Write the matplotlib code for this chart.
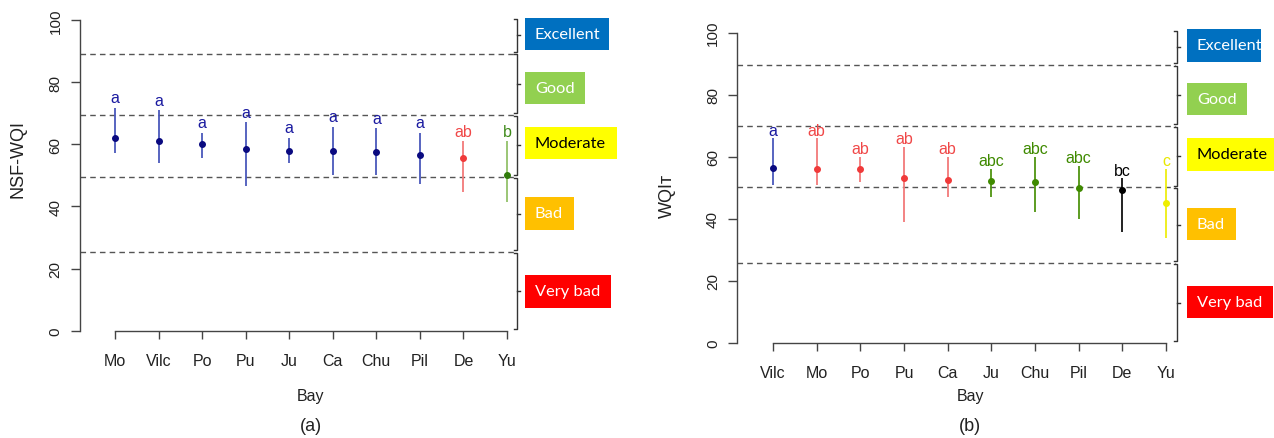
import matplotlib
matplotlib.use("Agg")
import matplotlib.pyplot as plt
from matplotlib.patches import Rectangle
from matplotlib.lines import Line2D

# ---------------- data ----------------
bays_a = ['Mo', 'Vilc', 'Po', 'Pu', 'Ju', 'Ca', 'Chu', 'Pil', 'De', 'Yu']
mean_a = [61.9, 61.0, 60.0, 58.5, 57.9, 57.9, 57.6, 56.6, 55.5, 50.2]
upper_a = [71.7, 71.0, 63.7, 67.1, 62.1, 65.6, 65.2, 63.7, 61.0, 61.0]
lower_a = [57.3, 54.0, 55.5, 46.6, 54.0, 50.2, 50.2, 47.2, 44.7, 41.5]
groups_a = ['a', 'a', 'a', 'a', 'a', 'a', 'a', 'a', 'ab', 'b']
thresholds_a = [25.3, 49.6, 69.4, 89.2]

bays_b = ['Vilc', 'Mo', 'Po', 'Pu', 'Ca', 'Ju', 'Chu', 'Pil', 'De', 'Yu']
mean_b = [56.5, 56.1, 56.1, 53.1, 52.5, 52.2, 51.8, 50.0, 49.2, 45.1]
upper_b = [65.9, 65.9, 60.0, 63.1, 60.0, 56.0, 60.0, 57.0, 53.0, 56.0]
lower_b = [51.0, 51.0, 51.8, 38.9, 46.9, 46.9, 42.1, 39.8, 35.8, 33.9]
groups_b = ['a', 'ab', 'ab', 'ab', 'ab', 'abc', 'abc', 'abc', 'bc', 'c']
thresholds_b = [25.6, 50.1, 69.9, 89.6]

classes = ['Very bad', 'Bad', 'Moderate', 'Good', 'Excellent']
yticks = [0, 20, 40, 60, 80, 100]

# ---------------- styles ----------------
W, H = 1274, 439
point_col = {'a': '#0a0a80', 'ab': '#f03a3a', 'b': '#2f7a0a', 'abc': '#3f8a00',
             'bc': '#000000', 'c': '#eeee00'}
bar_col = {'a': '#4a58bb', 'ab': '#f27a7a', 'b': '#93c26a', 'abc': '#4f9410',
           'bc': '#111111', 'c': '#eeee10'}
text_col = {'a': '#1a1aa0', 'ab': '#f04848', 'b': '#3f8a1a', 'abc': '#3f8a00',
            'bc': '#000000', 'c': '#e8e800'}
box_face = {'Excellent': '#0070C0', 'Good': '#92D050', 'Moderate': '#FFFF00',
            'Bad': '#FFC000', 'Very bad': '#FF0000'}
box_text = {'Excellent': 'white', 'Good': 'white', 'Moderate': 'black',
            'Bad': 'white', 'Very bad': 'white'}

plt.rcParams['font.family'] = ['Liberation Sans', 'DejaVu Sans']

fig = plt.figure(figsize=(W / 100, H / 100), dpi=100)


def fx(px):
    return px / W


def fy(py):
    return 1 - py / H


def make_panel(axis_px, x1_px, x10_px, y100_px, y0_px, right_px):
    step = (x10_px - x1_px) / 9.0
    xmin = 1 - (x1_px - axis_px) / step
    xmax = 10 + (right_px - x10_px) / step
    ax = fig.add_axes([fx(axis_px), fy(y0_px), fx(right_px) - fx(axis_px),
                       fy(y100_px) - fy(y0_px)])
    ax.set_xlim(xmin, xmax)
    ax.set_ylim(0, 100)
    for s in ['top', 'right']:
        ax.spines[s].set_visible(False)
    for s in ['left', 'bottom']:
        ax.spines[s].set_color('#444444')
        ax.spines[s].set_linewidth(1.0)
    ax.spines['left'].set_bounds(0, 100)
    ax.spines['bottom'].set_bounds(1, 10)
    ax.set_yticks(yticks)
    ax.set_yticklabels([str(v) for v in yticks], rotation=90, va='center',
                       fontsize=11, color='#222222')
    ax.tick_params(axis='y', length=6.2, width=1.0, color='#444444', pad=6)
    ax.tick_params(axis='x', length=6.0, width=1.0, color='#444444', pad=10,
                   labelsize=11.5, labelcolor='#222222')
    ax.patch.set_alpha(0)
    return ax, step, xmin


def draw_panel(ax, step, xmin, bays, mean, upper, lower, groups, thr,
               dash_end, br_x, label_off):
    xs = list(range(1, len(bays) + 1))
    ax.set_xticks(xs)
    ax.set_xticklabels(bays)
    for t in thr:
        ax.plot([xmin, dash_end], [t, t], ls=(0, (4, 3)), color='#555555',
                lw=1.0, clip_on=False)
    for x, m, u, l, g in zip(xs, mean, upper, lower, groups):
        ax.plot([x, x], [l, u], color=bar_col[g], lw=1.3, solid_capstyle='butt',
                zorder=3)
        ax.plot([x], [m], 'o', color=point_col[g], ms=4.0, zorder=4)
        ax.text(x, u + label_off, g, ha='center', va='center', fontsize=11.5,
                color=text_col[g])
    # brackets for classes
    bounds = [0] + thr + [100]
    hook = 0.06
    for i in range(len(classes)):
        lo = bounds[i] + 0.6
        hi = bounds[i + 1] - (0.3 if i < len(classes) - 1 else -0.4)
        ax.add_line(Line2D([br_x - hook, br_x, br_x, br_x - hook], [lo, lo, hi, hi],
                           color='#333333', lw=1.0, clip_on=False))
        mid = (lo + hi) / 2
        ax.add_line(Line2D([br_x, br_x + 0.08], [mid, mid], color='#333333',
                           lw=1.0, clip_on=False))


def draw_boxes(boxes):
    for name, (x0, x1, y0, y1) in boxes.items():
        x1 = min(x1, W)
        fig.add_artist(Rectangle((fx(x0), fy(y1)), fx(x1) - fx(x0),
                                 fy(y0) - fy(y1), transform=fig.transFigure,
                                 facecolor=box_face[name], edgecolor='none'))
        fig.text(fx(x0 + 10), fy((y0 + y1) / 2), name, ha='left', va='center',
                 fontsize=11.8, color=box_text[name], family=['Lato', 'DejaVu Sans'])


# panel (a)
ax_a, step_a, xmin_a = make_panel(79.5, 115, 507, 21, 331.7, 516)
draw_panel(ax_a, step_a, xmin_a, bays_a, mean_a, upper_a, lower_a, groups_a,
           thresholds_a, 10 + 8 / step_a, 10 + 9.7 / step_a, 3.2)
fig.text(fx(18), fy(159), 'NSF-WQI', rotation=90, ha='center', va='center',
         fontsize=13, color='#222222')
fig.text(fx(311), fy(397), 'Bay', ha='center', va='center', fontsize=11.5,
         color='#222222')
fig.text(fx(311), fy(427), '(a)', ha='center', va='center', fontsize=13,
         color='#222222')
draw_boxes({'Excellent': (525, 609, 19, 51), 'Good': (525, 585, 73, 105),
            'Moderate': (525, 617, 128, 160), 'Bad': (525, 574, 198, 231),
            'Very bad': (525, 611, 276, 309)})

# panel (b)
ax_b, step_b, xmin_b = make_panel(737, 773, 1166, 33.7, 343.7, 1176)
draw_panel(ax_b, step_b, xmin_b, bays_b, mean_b, upper_b, lower_b, groups_b,
           thresholds_b, 10 + 9 / step_b, 10 + 11 / step_b, 2.7)
fig.text(fx(667), fy(196), 'WQI\u1d1b', rotation=90, ha='center', va='center',
         fontsize=13, color='#222222')
fig.text(fx(970), fy(397), 'Bay', ha='center', va='center', fontsize=11.5,
         color='#222222')
fig.text(fx(970), fy(427), '(b)', ha='center', va='center', fontsize=13,
         color='#222222')
draw_boxes({'Excellent': (1187, 1261, 30, 63), 'Good': (1187, 1247, 84, 116),
            'Moderate': (1187, 1280, 139, 172), 'Bad': (1187, 1236, 209, 241),
            'Very bad': (1187, 1273, 287, 319)})

fig.savefig('out.png', dpi=100)
